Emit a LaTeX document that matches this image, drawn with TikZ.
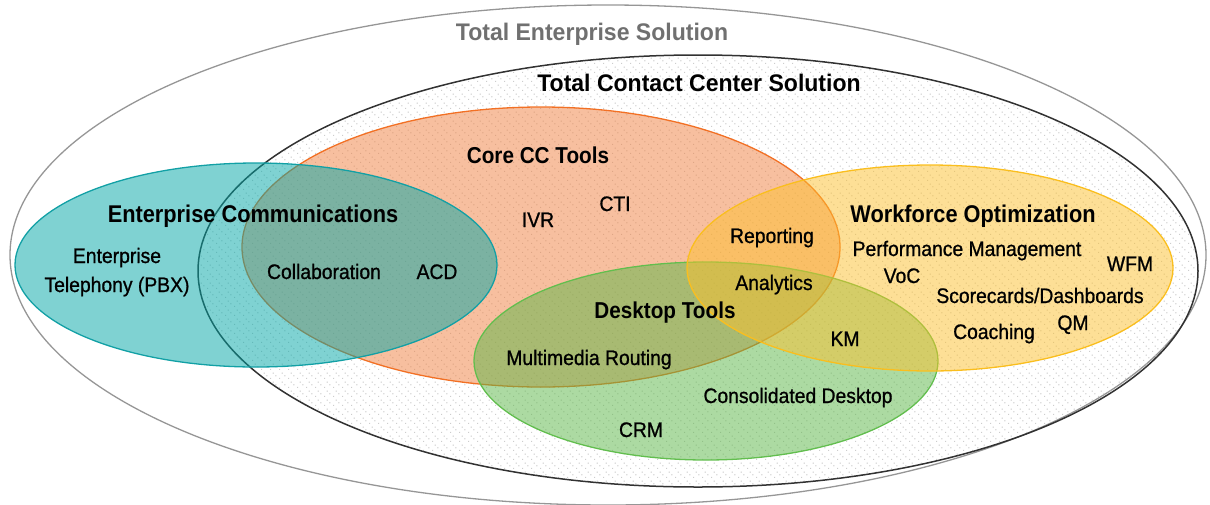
\documentclass[tikz,border=0pt]{standalone}
\usepackage{fontspec}
\setmainfont{Liberation Sans}
\newfontfamily\itemfont[FakeStretch=0.92,FakeBold=0.9]{Liberation Sans}
\newfontfamily\headfont[FakeStretch=0.9]{Liberation Sans}
\newfontfamily\titlefont[FakeStretch=0.96]{Liberation Sans}
\usetikzlibrary{patterns}

% diagonal rows of small dots
\pgfdeclarepatternformonly{diagdots}{\pgfpointorigin}{\pgfpoint{9pt}{9pt}}{\pgfpoint{9pt}{9pt}}{%
  \pgfpathrectangle{\pgfpoint{0pt}{0pt}}{\pgfpoint{1.2pt}{1.2pt}}%
  \pgfpathrectangle{\pgfpoint{3pt}{6pt}}{\pgfpoint{1.2pt}{1.2pt}}%
  \pgfpathrectangle{\pgfpoint{6pt}{3pt}}{\pgfpoint{1.2pt}{1.2pt}}%
  \pgfusepath{fill}}

\definecolor{tealfill}{RGB}{0,166,166}
\definecolor{tealline}{RGB}{18,160,165}
\definecolor{orangefill}{RGB}{240,128,64}
\definecolor{orangeline}{RGB}{242,112,36}
\definecolor{greenfill}{RGB}{90,182,70}
\definecolor{greenline}{RGB}{98,190,78}
\definecolor{yellowfill}{RGB}{252,192,46}
\definecolor{yellowline}{RGB}{250,190,30}
\definecolor{outergray}{RGB}{150,150,150}
\definecolor{innerdark}{RGB}{50,50,50}
\definecolor{titlegray}{RGB}{112,112,112}
\definecolor{dotgray}{RGB}{205,205,205}

\tikzset{
  area/.style={line width=1.3pt, fill opacity=0.5, draw opacity=1},
  item/.style={inner sep=0pt, anchor=base, font=\itemfont\fontsize{21}{24}\selectfont},
  head/.style={inner sep=0pt, anchor=base, font=\headfont\bfseries\fontsize{23}{26}\selectfont},
  bighead/.style={head, font=\headfont\bfseries\fontsize{24.2}{27}\selectfont},
  title/.style={inner sep=0pt, anchor=base, font=\titlefont\bfseries\fontsize{24}{27}\selectfont},
}

\begin{document}
\begin{tikzpicture}[x=1pt, y=-1pt]
  \useasboundingbox (0,0) rectangle (1210,504);

  % enterprise and contact-center scopes
  \draw[outergray, line width=1.3pt] (608,255) ellipse [x radius=598pt, y radius=250pt];
  \fill[pattern=diagdots, pattern color=dotgray] (698,271) ellipse [x radius=500pt, y radius=216pt];
  \draw[innerdark, line width=1.5pt] (698,271) ellipse [x radius=500pt, y radius=216pt];

  % tool groups
  \draw[area, draw=orangeline, fill=orangefill] (541,247) ellipse [x radius=299pt, y radius=140pt];
  \draw[area, draw=tealline, fill=tealfill] (256,265) ellipse [x radius=241pt, y radius=102pt];
  \draw[area, draw=greenline, fill=greenfill] (706,361) ellipse [x radius=232pt, y radius=99pt];
  \draw[area, draw=yellowline, fill=yellowfill] (930,268) ellipse [x radius=243pt, y radius=103pt];

  % titles
  \node[title, text=titlegray] (tes) at (592,40) {Total Enterprise Solution};
  \node[title] (tccs) at (699,91) {Total Contact Center Solution};

  % group headings
  \node[head] (core) at (538,163) {Core CC Tools};
  \node[bighead] (ecomm) at (253,222) {Enterprise Communications};
  \node[bighead] (wfo) at (973,222) {Workforce Optimization};
  \node[head] (desk) at (665,318) {Desktop Tools};

  % items
  \node[item] (ent) at (117,263) {Enterprise};
  \node[item] (pbx) at (117,292) {Telephony (PBX)};
  \node[item] (collab) at (324,279) {Collaboration};
  \node[item] (acd) at (437,279) {ACD};
  \node[item] (ivr) at (538,227) {IVR};
  \node[item] (cti) at (615,211) {CTI};
  \node[item] (rep) at (772,243) {Reporting};
  \node[item] (ana) at (774,290) {Analytics};
  \node[item] (km) at (845,346) {KM};
  \node[item] (perf) at (967,256) {Performance Management};
  \node[item] (voc) at (902,283) {VoC};
  \node[item] (wfm) at (1130,271) {WFM};
  \node[item] (score) at (1040,303) {Scorecards/Dashboards};
  \node[item] (coach) at (994,339) {Coaching};
  \node[item] (qm) at (1073,330) {QM};
  \node[item] (mmr) at (589,365) {Multimedia Routing};
  \node[item] (cons) at (798,403) {Consolidated Desktop};
  \node[item] (crm) at (641,437) {CRM};
\end{tikzpicture}
\end{document}
